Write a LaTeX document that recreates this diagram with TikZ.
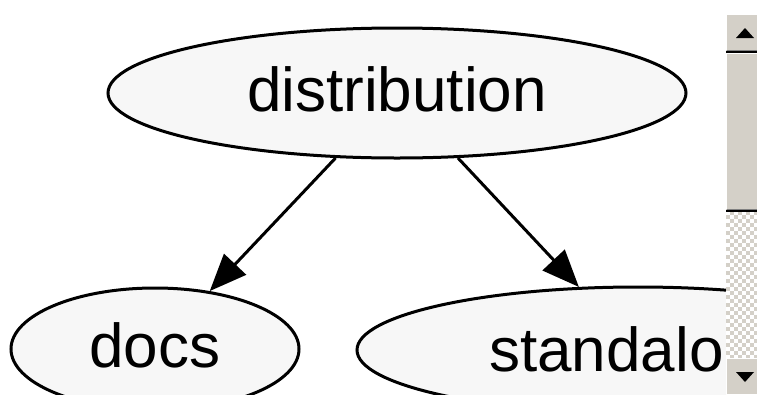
\documentclass[tikz,border=0pt]{standalone}
\usepackage{fontspec}
\setmainfont{Liberation Sans}
\usetikzlibrary{shapes.geometric,arrows.meta}
\definecolor{nodefill}{HTML}{F7F7F7}
\definecolor{btnface}{HTML}{D4D0C8}
\definecolor{btnshadow}{HTML}{808080}
\tikzset{
  graphnode/.style={ellipse,draw=black,line width=3pt,fill=nodefill,inner sep=0pt,
    font=\fontsize{62}{70}\selectfont,text height=44pt,text depth=8pt},
  edge/.style={line width=3pt,-{Triangle[length=37pt,width=30pt]}},
  btn/.style={fill=btnface,draw=none},
  arrowglyph/.style={fill=black,draw=none}
}
\begin{document}
\begin{tikzpicture}[x=1pt,y=-1pt]
\useasboundingbox (0,0) rectangle (757,394);
\fill[white] (0,0) rectangle (757,394);
\begin{scope}
\clip (0,0) rectangle (726,394);
\node[graphnode,minimum width=578pt,minimum height=130pt] (distribution) at (397,93) {distribution};
\node[graphnode,minimum width=288pt,minimum height=122pt] (docs) at (155,349) {docs};
\node[graphnode,minimum width=562pt,minimum height=126pt] (standalone) at (638,350) {};
\node[font=\fontsize{62}{70}\selectfont,anchor=base west,inner sep=0pt] (standalonetext) at (489,371) {standalo};
\draw[edge] (distribution) -- (docs);
\draw[edge] (distribution) -- (standalone);
\end{scope}
% scrollbar
\begin{scope}
\clip (726,211) rectangle (757,358);
\fill[btnface] (726,211) rectangle (757,358);
\foreach \i in {0,...,7}{
  \foreach \j in {0,...,36}{
    \pgfmathtruncatemacro{\chk}{mod(\i+\j,2)}
    \ifnum\chk=0
      \fill[white] (726+4*\i,211+4*\j) rectangle ++(4,4);
    \fi
  }
}
\end{scope}
% up button
\fill[btn] (726,14) rectangle (757,51);
\draw[white,line width=1pt] (726.5,50) -- (726.5,14.5) -- (757,14.5);
\draw[btnshadow,line width=1pt] (727,50.5) -- (757,50.5);
\fill[black] (726,51) rectangle (757,52.5);
\coordinate (upapex) at (745,28);
\fill[arrowglyph] (upapex) -- (754,38) -- (736,38) -- cycle;
% thumb
\fill[btn] (726,52.5) rectangle (757,210);
\draw[white,line width=1pt] (726.5,209) -- (726.5,53) -- (757,53);
\draw[btnshadow,line width=1pt] (727,209.5) -- (757,209.5);
\fill[black] (726,210) rectangle (757,211.5);
% down button
\fill[btn] (726,358) rectangle (757,394);
\draw[white,line width=1pt] (726.5,394) -- (726.5,358.5) -- (757,358.5);
\coordinate (downapex) at (745,382);
\fill[arrowglyph] (downapex) -- (736,372) -- (754,372) -- cycle;
\end{tikzpicture}
\end{document}
